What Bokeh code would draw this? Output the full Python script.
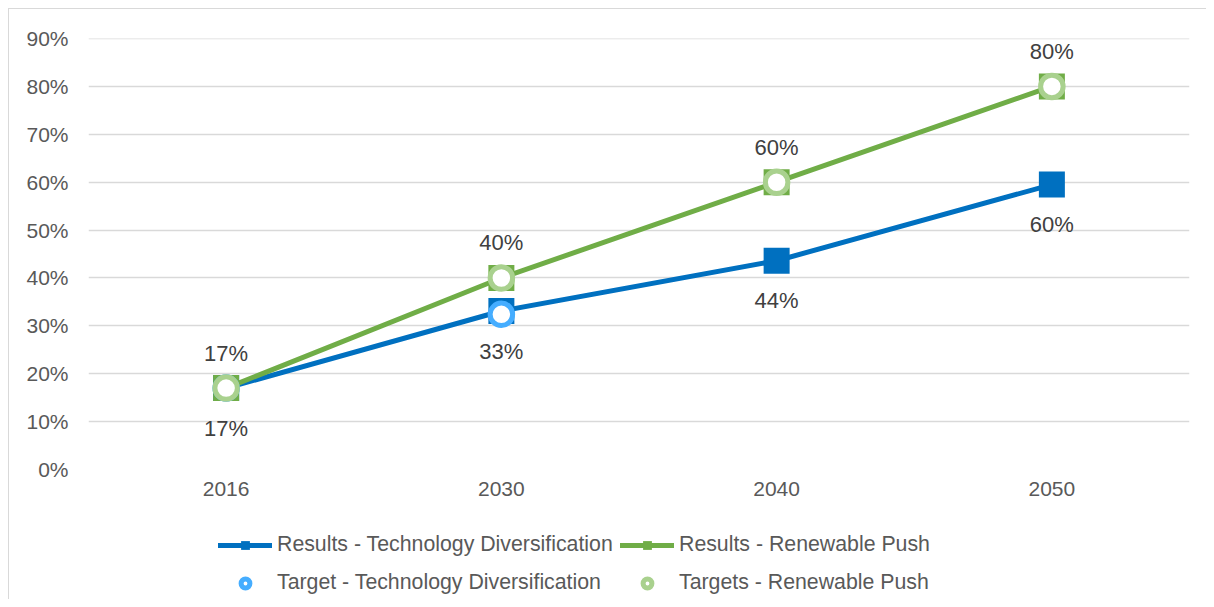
from bokeh.plotting import figure
from bokeh.layouts import column
from bokeh.models import (FactorRange, Range1d, FixedTicker, NumeralTickFormatter,
                          Legend, LegendItem, ColumnDataSource)
from bokeh.core.properties import value
from bokeh.embed import file_html
from bokeh.resources import INLINE

# ---- data ----
years = ["2016", "2030", "2040", "2050"]
results_tech = [0.17, 0.331, 0.436, 0.595]
results_renew = [0.17, 0.40, 0.60, 0.80]
target_tech = [0.17, 0.324, float("nan"), float("nan")]
target_renew = [0.17, 0.40, 0.60, 0.80]
y_ticks = [0.0, 0.1, 0.2, 0.3, 0.4, 0.5, 0.6, 0.7, 0.8, 0.9]
series_names = ["Results - Technology Diversification", "Results - Renewable Push",
                "Target - Technology Diversification", "Targets - Renewable Push"]

FONT = "Liberation Sans"
BLUE = "#0070C0"
GREEN = "#70AD47"
LBLUE = "#45ADFF"
LGREEN = "#A9D18E"
GRID = "#D9D9D9"
TICK = "#595959"
LABEL = "#404040"

W = 1197
p = figure(width=W, height=501, output_backend="svg", toolbar_location=None,
           x_range=FactorRange(*years, range_padding=0),
           y_range=Range1d(0, 0.9001),
           min_border_left=79, min_border_right=17, min_border_top=29, min_border_bottom=41)
p.outline_line_color = None
p.background_fill_color = "white"
p.border_fill_color = "white"

p.xgrid.grid_line_color = None
p.ygrid.grid_line_color = GRID
p.ygrid.grid_line_width = 1.5

p.yaxis.ticker = FixedTicker(ticks=y_ticks)
p.yaxis.formatter = NumeralTickFormatter(format="0%")
for ax in (p.xaxis, p.yaxis):
    ax.axis_line_color = None
    ax.major_tick_line_color = None
    ax.minor_tick_line_color = None
    ax.major_tick_out = 0
    ax.major_tick_in = 0
    ax.major_label_text_font = FONT
    ax.major_label_text_font_size = "21px"
    ax.major_label_text_color = TICK
p.yaxis.major_label_standoff = 20
p.xaxis.major_label_standoff = 12

src = ColumnDataSource(dict(x=years, rt=results_tech, rr=results_renew,
                            tt=target_tech, tr=target_renew,
                            rt_lab=[f"{round(v*100)}%" for v in results_tech],
                            rr_lab=[f"{round(v*100)}%" for v in results_renew]))

line_kw = dict(line_width=5, line_cap="round")
sq_kw = dict(marker="square", size=26, line_width=0)
ci_kw = dict(marker="circle", size=22.5, fill_color="white", line_width=5)

p.line("x", "rt", source=src, line_color=BLUE, **line_kw)
p.scatter("x", "rt", source=src, fill_color=BLUE, line_color=BLUE, **sq_kw)
p.line("x", "rr", source=src, line_color=GREEN, **line_kw)
p.scatter("x", "rr", source=src, fill_color=GREEN, line_color=GREEN, **sq_kw)
p.scatter("x", "tt", source=src, line_color=LBLUE, **ci_kw)
p.scatter("x", "tr", source=src, line_color=LGREEN, **ci_kw)

p.text("x", "rt", text="rt_lab", source=src, y_offset=40, text_align="center", text_baseline="middle",
       text_font=value(FONT), text_font_size="22px", text_color=LABEL)
p.text("x", "rr", text="rr_lab", source=src, y_offset=-35, text_align="center", text_baseline="middle",
       text_font=value(FONT), text_font_size="22px", text_color=LABEL)

# ---- legend strip below the chart (frame aligned with the chart's frame) ----
lp = figure(width=W, height=89, output_backend="svg", toolbar_location=None,
            x_range=Range1d(0, 1), y_range=Range1d(0, 1),
            min_border_left=0, min_border_right=0, min_border_top=0, min_border_bottom=0)
lp.axis.visible = False
lp.grid.visible = False
lp.outline_line_color = None
lp.background_fill_color = "white"
lp.border_fill_color = "white"

# off-screen proxies (outside the ranges) that only serve as legend glyphs
lx, ly = [-10, -9], [-10, -10]
g1 = [lp.line(lx, ly, line_color=BLUE, **line_kw),
      lp.scatter(lx[:1], ly[:1], fill_color=BLUE, line_color=BLUE, **sq_kw)]
g2 = [lp.line(lx, ly, line_color=GREEN, **line_kw),
      lp.scatter(lx[:1], ly[:1], fill_color=GREEN, line_color=GREEN, **sq_kw)]
g3 = [lp.scatter(lx[:1], ly[:1], line_color=LBLUE, **ci_kw)]
g4 = [lp.scatter(lx[:1], ly[:1], line_color=LGREEN, **ci_kw)]

items = [(series_names[0], g1, (130, 42)),
         (series_names[1], g2, (532, 42)),
         (series_names[2], g3, (130, 4)),
         (series_names[3], g4, (532, 4))]
for label, rends, loc in items:
    lg = Legend(items=[LegendItem(label=label, renderers=rends)], location=loc,
                glyph_width=54, glyph_height=22, label_standoff=5, padding=0, margin=0,
                border_line_color=None, background_fill_color=None, background_fill_alpha=0,
                label_text_font=FONT, label_text_font_size="21.3px", label_text_color=TICK,
                label_height=22)
    lp.add_layout(lg, "center")

layout = column(p, lp, spacing=0,
                styles={"margin-left": "8px", "margin-top": "8px",
                        "border-left": "1px solid #D9D9D9", "border-top": "1px solid #D9D9D9"})

open("out.html", "w").write(file_html(layout, INLINE))
